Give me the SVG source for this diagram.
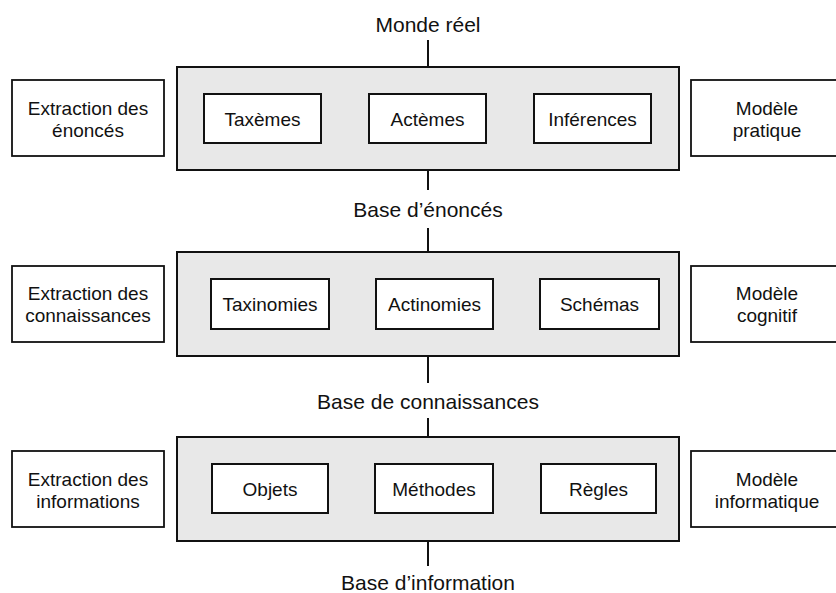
<svg xmlns="http://www.w3.org/2000/svg" width="836" height="593" viewBox="0 0 836 593">
  <style>
    text { font-family: "Liberation Sans", Arial, sans-serif; fill: #111; text-anchor: middle; }
    .lbl { font-size: 21px; }
    .box { font-size: 19px; }
    .layer { fill: #e8e8e8; stroke: #111; stroke-width: 2; }
    .item { fill: #fff; stroke: #111; stroke-width: 2; }
    .side { fill: #fff; stroke: #111; stroke-width: 1.8; }
    .link { stroke: #111; stroke-width: 2; fill: none; }
  </style>
  <rect width="836" height="593" fill="#fff"/>

  <!-- vertical connectors -->
  <g id="connectors">
    <line class="link" x1="428" y1="40" x2="428" y2="67"/>
    <line class="link" x1="428" y1="170" x2="428" y2="190"/>
    <line class="link" x1="428" y1="228" x2="428" y2="252"/>
    <line class="link" x1="428" y1="356" x2="428" y2="383"/>
    <line class="link" x1="428" y1="418" x2="428" y2="437"/>
    <line class="link" x1="428" y1="541" x2="428" y2="566"/>
  </g>

  <!-- labels between layers -->
  <g id="monde-reel"><text class="lbl" x="428" y="32">Monde réel</text></g>
  <g id="base-enonces"><text class="lbl" x="428" y="217">Base d’énoncés</text></g>
  <g id="base-connaissances"><text class="lbl" x="428" y="409">Base de connaissances</text></g>
  <g id="base-information"><text class="lbl" x="428" y="590">Base d’information</text></g>

  <!-- layer 1 -->
  <g id="extraction-enonces">
    <rect class="side" x="12" y="80" width="152" height="76"/>
    <text class="box" x="88" y="115">Extraction des</text>
    <text class="box" x="88" y="137">énoncés</text>
  </g>
  <g id="layer-enonces">
    <rect class="layer" x="177" y="67" width="502" height="103"/>
  </g>
  <g id="taxemes">
    <rect class="item" x="204" y="94" width="117" height="49"/>
    <text class="box" x="262.5" y="126">Taxèmes</text>
  </g>
  <g id="actemes">
    <rect class="item" x="369" y="94" width="117" height="49"/>
    <text class="box" x="427.5" y="126">Actèmes</text>
  </g>
  <g id="inferences">
    <rect class="item" x="534" y="94" width="117" height="49"/>
    <text class="box" x="592.5" y="126">Inférences</text>
  </g>
  <g id="modele-pratique">
    <rect class="side" x="691" y="80" width="152" height="76"/>
    <text class="box" x="767" y="115">Modèle</text>
    <text class="box" x="767" y="137">pratique</text>
  </g>

  <!-- layer 2 -->
  <g id="extraction-connaissances">
    <rect class="side" x="12" y="266" width="152" height="76"/>
    <text class="box" x="88" y="300">Extraction des</text>
    <text class="box" x="88" y="322">connaissances</text>
  </g>
  <g id="layer-connaissances">
    <rect class="layer" x="177" y="252" width="502" height="104"/>
  </g>
  <g id="taxinomies">
    <rect class="item" x="211" y="279" width="118" height="50"/>
    <text class="box" x="270" y="311">Taxinomies</text>
  </g>
  <g id="actinomies">
    <rect class="item" x="376" y="279" width="117" height="50"/>
    <text class="box" x="434.5" y="311">Actinomies</text>
  </g>
  <g id="schemas">
    <rect class="item" x="540" y="279" width="119" height="50"/>
    <text class="box" x="599.5" y="311">Schémas</text>
  </g>
  <g id="modele-cognitif">
    <rect class="side" x="691" y="266" width="152" height="76"/>
    <text class="box" x="767" y="300">Modèle</text>
    <text class="box" x="767" y="322">cognitif</text>
  </g>

  <!-- layer 3 -->
  <g id="extraction-informations">
    <rect class="side" x="12" y="451" width="152" height="76"/>
    <text class="box" x="88" y="486">Extraction des</text>
    <text class="box" x="88" y="508">informations</text>
  </g>
  <g id="layer-informations">
    <rect class="layer" x="177" y="437" width="502" height="104"/>
  </g>
  <g id="objets">
    <rect class="item" x="212" y="464" width="116" height="49"/>
    <text class="box" x="270" y="496">Objets</text>
  </g>
  <g id="methodes">
    <rect class="item" x="375" y="464" width="118" height="49"/>
    <text class="box" x="434" y="496">Méthodes</text>
  </g>
  <g id="regles">
    <rect class="item" x="541" y="464" width="115" height="49"/>
    <text class="box" x="598.5" y="496">Règles</text>
  </g>
  <g id="modele-informatique">
    <rect class="side" x="691" y="451" width="152" height="76"/>
    <text class="box" x="767" y="486">Modèle</text>
    <text class="box" x="767" y="508">informatique</text>
  </g>
</svg>
